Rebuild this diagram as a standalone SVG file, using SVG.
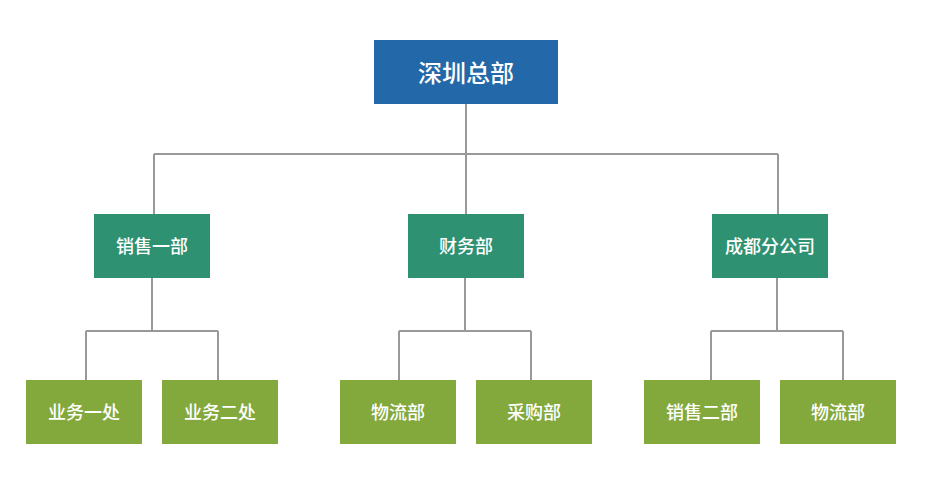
<svg xmlns="http://www.w3.org/2000/svg" width="932" height="491" viewBox="0 0 932 491">
<style>
.l1{fill:#2369a9}
.l2{fill:#2e9171}
.l3{fill:#83a93d}
text{fill:#ffffff;font-family:"Noto Sans CJK SC","Noto Sans",sans-serif;font-weight:500;text-anchor:middle;dominant-baseline:central}
.t1{font-size:24px}
.t2{font-size:18px}
.conn{fill:none;stroke:#999999;stroke-width:2}
</style>
<rect width="932" height="491" fill="#ffffff"/>
<g id="connectors" class="conn">
<path d="M466 104V154M154 154H778M154 154V214M466 154V214M778 154V214"/>
<path d="M152 278V331M86 331H218M86 331V380M218 331V380"/>
<path d="M465 278V331M399 331H531M399 331V380M531 331V380"/>
<path d="M777 278V331M711 331H843M711 331V380M843 331V380"/>
</g>
<g id="n-shenzhen"><rect class="l1" x="374" y="40" width="184" height="64"/><text class="t1" x="466" y="71">深圳总部</text></g>
<g id="n-sales1"><rect class="l2" x="94" y="214" width="116" height="64"/><text class="t2" x="152" y="245">销售一部</text></g>
<g id="n-finance"><rect class="l2" x="408" y="214" width="116" height="64"/><text class="t2" x="466" y="245">财务部</text></g>
<g id="n-chengdu"><rect class="l2" x="712" y="214" width="116" height="64"/><text class="t2" x="770" y="245">成都分公司</text></g>
<g id="n-biz1"><rect class="l3" x="26" y="380" width="116" height="64"/><text class="t2" x="84" y="411">业务一处</text></g>
<g id="n-biz2"><rect class="l3" x="162" y="380" width="116" height="64"/><text class="t2" x="220" y="411">业务二处</text></g>
<g id="n-logistics1"><rect class="l3" x="340" y="380" width="116" height="64"/><text class="t2" x="398" y="411">物流部</text></g>
<g id="n-purchase"><rect class="l3" x="476" y="380" width="116" height="64"/><text class="t2" x="534" y="411">采购部</text></g>
<g id="n-sales2"><rect class="l3" x="644" y="380" width="116" height="64"/><text class="t2" x="702" y="411">销售二部</text></g>
<g id="n-logistics2"><rect class="l3" x="780" y="380" width="116" height="64"/><text class="t2" x="838" y="411">物流部</text></g>
</svg>
